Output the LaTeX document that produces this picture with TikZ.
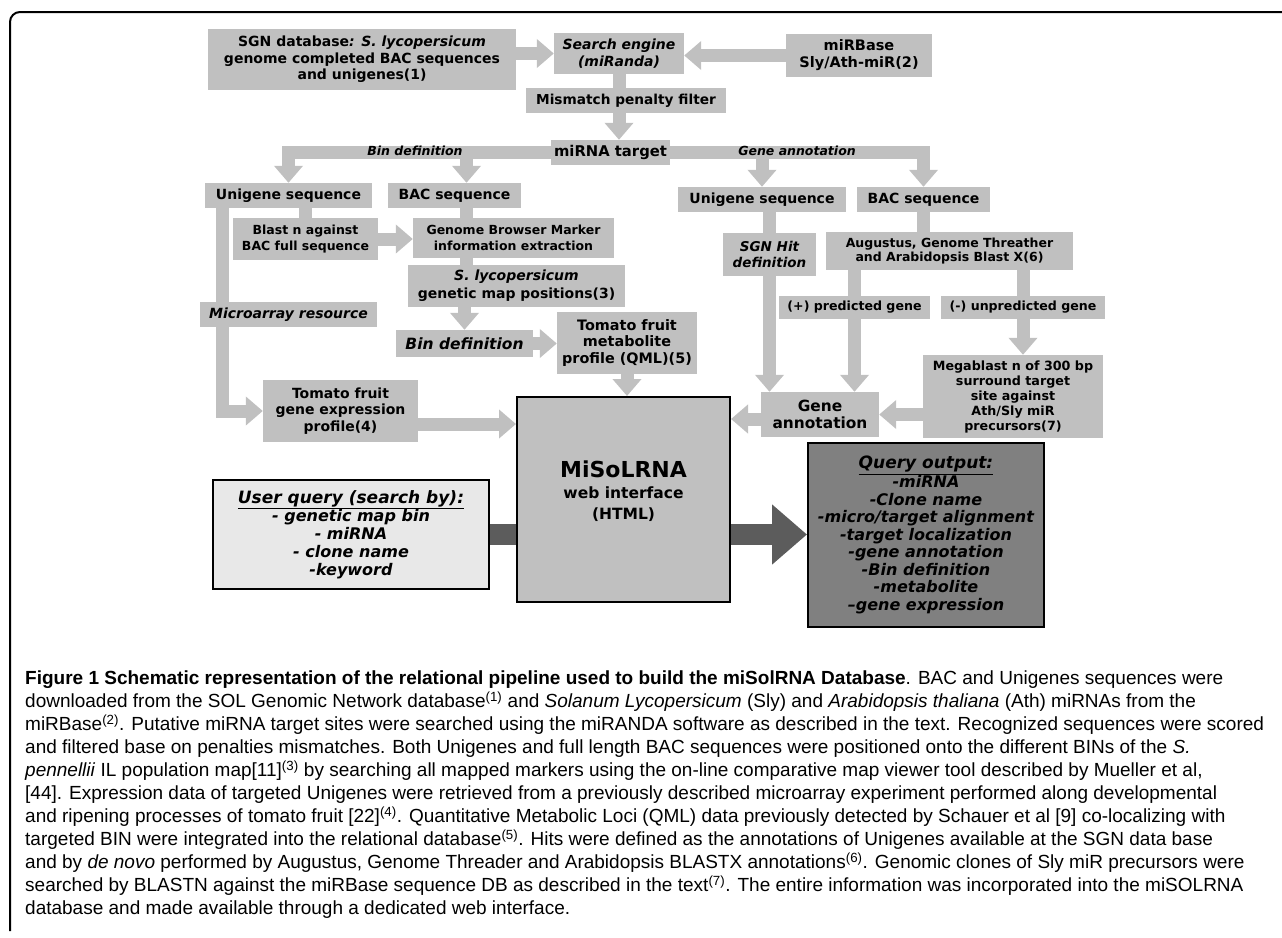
\documentclass[tikz,border=0pt]{standalone}
\usepackage{fontspec}
\setmainfont{DejaVu Sans}
\newfontfamily\capfont{Liberation Sans}
\usetikzlibrary{arrows.meta}
\pgfdeclarelayer{background}
\pgfsetlayers{background,main}
\definecolor{boxgray}{RGB}{192,192,192}
\definecolor{lightfill}{RGB}{232,232,232}
\definecolor{darkfill}{RGB}{128,128,128}
\definecolor{darkarrow}{RGB}{92,92,92}
\newcommand\fsz[2]{\fontsize{#1}{#2}\selectfont}
\begin{document}
\begin{tikzpicture}[x=1pt,y=-1pt,
  gbox/.style={fill=boxgray, inner sep=0pt, align=center, font=\bfseries\fsz{14}{16.5}},
  smalltxt/.style={font=\bfseries\fsz{12.5}{16}},
  bartxt/.style={inner sep=0pt, font=\bfseries\itshape\fsz{12.5}{14}},
  gline/.style={draw=boxgray, line width=13pt, line join=miter},
  garrow/.style={gline, -{Triangle[length=17pt,width=28pt]}},
  dline/.style={draw=darkarrow, line width=21pt},
  darrow/.style={dline, -{Triangle[length=35pt,width=58pt]}}]
\useasboundingbox (0,0) rectangle (1282,937);
% frame
\draw[line width=2pt, rounded corners=10pt] (10,931) -- (10,12) -- (1282,12);
% boxes
\node[gbox, minimum width=308, minimum height=61] (sgn) at (362,59.5) {SGN database\textit{: S. lycopersicum}\\genome completed BAC sequences\\and unigenes(1)};
\node[gbox, font=\bfseries\itshape\fsz{14}{16.5}, minimum width=130, minimum height=41] (search) at (619,53.5) {Search engine\\(miRanda)};
\node[gbox, font=\bfseries\fsz{14.5}{17}, minimum width=146, minimum height=43] (mirbase) at (859,55.5) {miRBase\\Sly/Ath-miR(2)};
\node[gbox, font=\bfseries\fsz{13.7}{16}, minimum width=200, minimum height=25] (mismatch) at (626,100.5) {Mismatch penalty filter};
\node[gbox, font=\bfseries\fsz{14.8}{17}, minimum width=119, minimum height=25] (mirna) at (610.5,152.5) {miRNA target};
\node[gbox, minimum width=167, minimum height=25] (uniL) at (288.5,195.5) {Unigene sequence};
\node[gbox, minimum width=133, minimum height=25] (bacL) at (454.5,195.5) {BAC sequence};
\node[gbox, smalltxt, minimum width=145, minimum height=42] (blast) at (305.5,239) {Blast n against\\BAC full sequence};
\node[gbox, smalltxt, minimum width=201, minimum height=40] (genome) at (513.5,238) {Genome Browser Marker\\information extraction};
\node[gbox, font=\bfseries\fsz{14}{18}, minimum width=217, minimum height=42] (slyc) at (516.5,286) {\textit{S. lycopersicum}\\genetic map positions(3)};
\node[gbox, font=\bfseries\itshape\fsz{14}{16}, minimum width=177, minimum height=25] (micro) at (288.5,314.5) {Microarray resource};
\node[gbox, font=\bfseries\itshape\fsz{15.5}{18}, minimum width=137, minimum height=27] (bindef) at (464.5,343.5) {Bin definition};
\node[gbox, font=\bfseries\fsz{14.4}{16.5}, minimum width=140, minimum height=62] (metab) at (627,343) {Tomato fruit\\metabolite\\profile (QML)(5)};
\node[gbox, minimum width=155, minimum height=62] (expr) at (340.5,411) {Tomato fruit\\gene expression\\profile(4)};
\node[gbox, draw=black, line width=2pt, minimum width=213, minimum height=205] (misol) at (623.5,499.5) {};
\node[inner sep=0pt, align=center, font=\bfseries\fsz{15.5}{21}] (misoltxt) at ([yshift=8pt]misol.center) {{\fsz{22}{21}MiSoLRNA}\\web interface\\(HTML)};
\node[gbox, minimum width=168, minimum height=25] (uniR) at (762,199.5) {Unigene sequence};
\node[gbox, minimum width=133, minimum height=25] (bacR) at (923.5,199.5) {BAC sequence};
\node[gbox, font=\bfseries\itshape\fsz{13.5}{16.5}, minimum width=93, minimum height=43] (sgnhit) at (769.5,254.5) {SGN Hit\\definition};
\node[gbox, font=\bfseries\fsz{12.5}{14.5}, minimum width=247, minimum height=38] (augustus) at (949.5,251) {Augustus, Genome Threather\\and Arabidopsis Blast X(6)};
\node[gbox, font=\bfseries\fsz{12.6}{15}, minimum width=151, minimum height=23] (pred) at (854.5,307.5) {(+) predicted gene};
\node[gbox, font=\bfseries\fsz{12.6}{15}, minimum width=164, minimum height=23] (unpred) at (1023,307.5) {(-) unpredicted gene};
\node[gbox, font=\bfseries\fsz{12.7}{15}, minimum width=180, minimum height=83] (megablast) at (1013,396.5) {Megablast n of 300 bp\\surround target\\site against\\Ath/Sly miR\\precursors(7)};
\node[gbox, font=\bfseries\fsz{15.4}{17}, minimum width=118, minimum height=45] (geneann) at (820,414.5) {Gene\\annotation};
\node[fill=lightfill, draw=black, line width=2pt, inner sep=0pt, align=center, font=\bfseries\itshape\fsz{16}{18}, minimum width=276, minimum height=109] (userq) at (351,534.5) {{\fsz{17}{18}\underline{User query (search by):}}\\- genetic map bin\\- miRNA\\- clone name\\-keyword};
\node[fill=darkfill, draw=black, line width=2pt, inner sep=0pt, align=center, font=\bfseries\itshape\fsz{16}{17.5}, minimum width=236, minimum height=184] (queryout) at (926,535) {{\fsz{17}{17.5}\underline{Query output:}}\\-miRNA\\-Clone name\\-micro/target alignment\\-target localization\\-gene annotation\\-Bin definition\\-metabolite\\–gene expression};
% bar labels
\node[bartxt] (lblbin) at (415,151) {Bin definition};
\node[bartxt] (lblgene) at (797,151) {Gene annotation};
% connectors
\begin{pgfonlayer}{background}
\draw[garrow] (sgn.east |- search.west) -- (search.west);
\draw[garrow] (mirbase.west) -- (mirbase.west -| search.east);
\draw[gline] (search.south) -- (search.south |- mismatch.north);
\draw[garrow] (mismatch.south -| search.south) -- (mirna.north -| search.south);
\draw[garrow] (mirna.west) -| (uniL.north);
\coordinate (bacin) at ([xshift=12pt]bacL.north);
\draw[garrow] (bacin |- mirna.west) -- (bacin);
\draw[garrow] (mirna.east) -| (bacR.north);
\draw[garrow] (uniR.north |- mirna.east) -- (uniR.north);
\draw[gline] (blast.north |- uniL.south) -- (blast.north);
\coordinate (uleft) at ([xshift=-66pt]uniL.south);
\draw[garrow] (uleft) |- (expr.west);
\draw[garrow] (blast.east) -- (blast.east -| genome.west);
\draw[gline] (bacL.south -| bacin) -- (genome.north -| bacin);
\draw[gline] (genome.south -| bacin) -- (slyc.north -| bacin);
\draw[garrow] (slyc.south -| bindef.north) -- (bindef.north);
\draw[garrow] (bindef.east) -- (bindef.east -| metab.west);
\draw[garrow] (metab.south) -- (metab.south |- misol.north);
\coordinate (exprout) at ([yshift=-13pt]expr.east);
\draw[garrow] (exprout) -- (exprout -| misol.west);
\draw[gline] (sgnhit.north |- uniR.south) -- (sgnhit.north);
\draw[garrow] (sgnhit.south) -- (sgnhit.south |- geneann.north);
\draw[gline] (bacR.south) -- (bacR.south |- augustus.north);
\draw[gline] (pred.north |- augustus.south) -- (pred.north);
\draw[gline] (unpred.north |- augustus.south) -- (unpred.north);
\draw[garrow] (pred.south) -- (pred.south |- geneann.north);
\draw[garrow] (unpred.south) -- (unpred.south |- megablast.north);
\draw[garrow] (megablast.west |- geneann.east) -- (geneann.east);
\coordinate (geneout) at ([yshift=-4.5pt]geneann.west);
\draw[garrow] (geneout) -- (geneout -| misol.east);
\draw[dline] (userq.east) -- (userq.east -| misol.west);
\draw[darrow] (userq.east -| misol.east) -- (userq.east -| queryout.west);
\end{pgfonlayer}
% caption
\node[anchor=north west, inner sep=0pt, align=left, font=\capfont\fsz{19}{23}] (caption) at (25,671) {\textbf{Figure 1 Schematic representation of the relational pipeline used to build the miSolRNA Database}. BAC and Unigenes sequences were\\
downloaded from the SOL Genomic Network database\textsuperscript{(1)} and \textit{Solanum Lycopersicum} (Sly) and \textit{Arabidopsis thaliana} (Ath) miRNAs from the\\
miRBase\textsuperscript{(2)}. Putative miRNA target sites were searched using the miRANDA software as described in the text. Recognized sequences were scored\\
and filtered base on penalties mismatches. Both Unigenes and full length BAC sequences were positioned onto the different BINs of the \textit{S.}\\
\textit{pennellii} IL population map[11]\textsuperscript{(3)} by searching all mapped markers using the on-line comparative map viewer tool described by Mueller et al,\\
{[44]}. Expression data of targeted Unigenes were retrieved from a previously described microarray experiment performed along developmental\\
and ripening processes of tomato fruit [22]\textsuperscript{(4)}. Quantitative Metabolic Loci (QML) data previously detected by Schauer et al [9] co-localizing with\\
targeted BIN were integrated into the relational database\textsuperscript{(5)}. Hits were defined as the annotations of Unigenes available at the SGN data base\\
and by \textit{de novo} performed by Augustus, Genome Threader and Arabidopsis BLASTX annotations\textsuperscript{(6)}. Genomic clones of Sly miR precursors were\\
searched by BLASTN against the miRBase sequence DB as described in the text\textsuperscript{(7)}. The entire information was incorporated into the miSOLRNA\\
database and made available through a dedicated web interface.};
\end{tikzpicture}
\end{document}
